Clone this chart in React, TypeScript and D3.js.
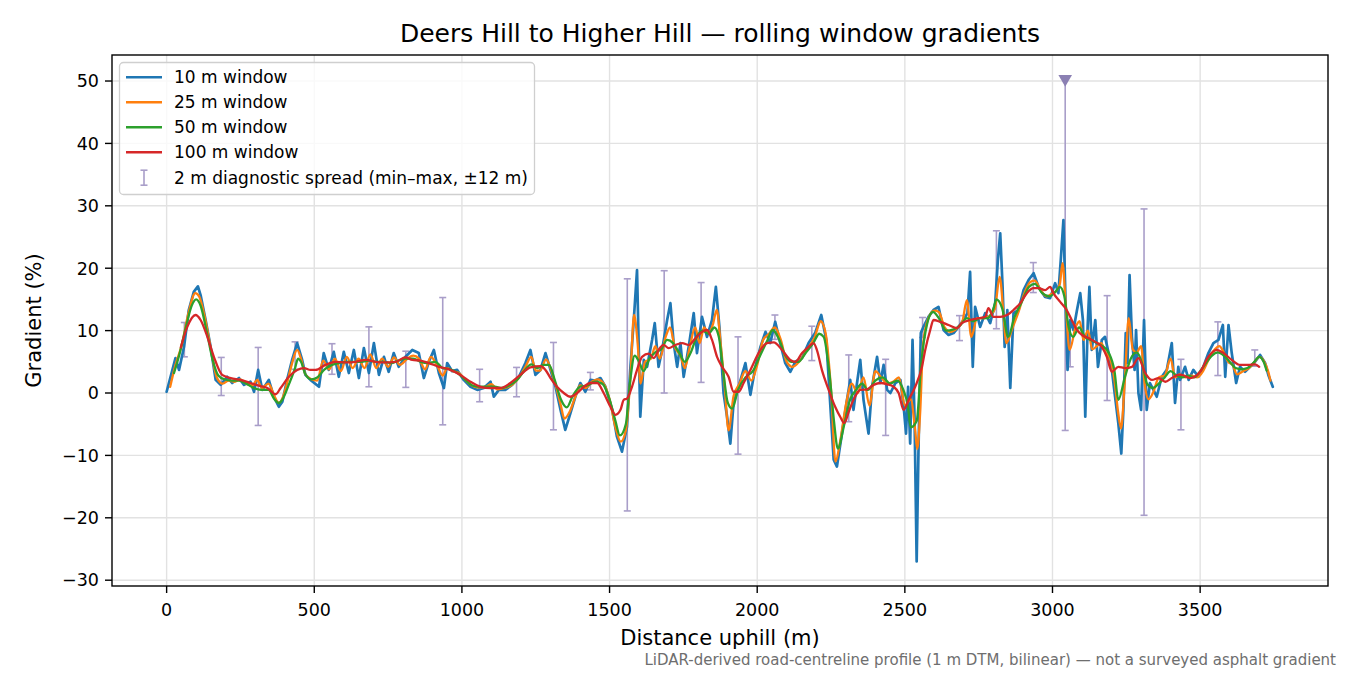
import React from 'react';
import * as d3 from 'd3';

// Rolling-window gradient profiles, [distance m, gradient %]
const window10: [number, number][] = [
  [0, 0.2], [30, 5.6], [42, 3.7], [59, 7.4], [75, 13.3], [92, 16.2], [106, 17.1], [115, 15.7], [132, 11.7], [149, 7.4],
  [166, 2.1], [183, 1.3], [205, 2.6], [222, 1.6], [245, 2.4], [262, 1.3], [284, 1.8], [296, 0.2], [310, 3.7], [324, 0.5],
  [346, 2.1], [363, -0.6], [380, -2.2], [392, -1.4], [408, 2.1], [425, 5.3], [442, 8.0], [459, 5.3], [470, 2.9], [487, 2.1],
  [516, 1.0], [532, 6.4], [549, 3.7], [566, 6.6], [583, 2.6], [600, 6.6], [617, 3.2], [634, 6.9], [651, 2.4], [668, 7.2],
  [685, 3.2], [702, 8.0], [719, 2.9], [736, 5.8], [752, 3.4], [769, 6.4], [786, 4.2], [809, 5.8], [832, 6.9], [854, 6.4],
  [871, 2.4], [888, 5.0], [905, 6.9], [922, 3.2], [939, 0.8], [950, 4.8], [967, 3.5], [984, 3.7], [1006, 2.1], [1029, 1.0],
  [1052, 0.5], [1074, 0.8], [1097, 1.8], [1108, -0.6], [1125, 0.5], [1147, 0.5], [1170, 1.3], [1193, 2.6], [1215, 4.8], [1232, 6.9],
  [1249, 2.9], [1266, 3.7], [1283, 6.4], [1300, 3.7], [1317, 1.0], [1334, -2.7], [1350, -5.9], [1367, -3.3], [1384, -0.6], [1401, 1.6],
  [1418, 0.2], [1435, 2.1], [1452, 2.0], [1469, 2.4], [1486, 1.0], [1509, -2.7], [1525, -7.0], [1542, -9.4], [1559, -5.4], [1570, 3.7],
  [1582, 11.7], [1593, 19.7], [1604, -3.8], [1616, 5.3], [1627, 4.2], [1644, 8.5], [1653, 11.2], [1666, 4.2], [1678, 6.9], [1695, 11.7],
  [1706, 14.4], [1717, 8.0], [1729, 4.2], [1740, 8.0], [1751, 2.6], [1768, 7.4], [1785, 12.8], [1796, 6.4], [1813, 12.2], [1830, 9.0],
  [1847, 11.7], [1860, 17.0], [1872, 10.6], [1886, 0.0], [1898, -3.8], [1909, -8.1], [1920, -1.6], [1937, 1.0], [1960, 4.8], [1977, -0.3],
  [1994, 4.2], [2011, 7.4], [2028, 9.8], [2044, 8.0], [2061, 11.4], [2078, 8.0], [2095, 4.8], [2112, 3.4], [2129, 5.0], [2152, 5.6],
  [2174, 8.0], [2196, 9.6], [2217, 12.5], [2234, 8.5], [2245, 0.0], [2259, -10.7], [2270, -11.8], [2287, -6.5], [2304, -1.1], [2315, 2.1],
  [2326, -2.7], [2338, 1.6], [2349, 5.3], [2360, -1.1], [2377, -6.5], [2389, 1.0], [2406, 5.8], [2417, 1.6], [2428, 4.5], [2440, 0.5],
  [2451, 0.0], [2468, 1.6], [2485, 2.1], [2496, -2.2], [2504, -6.5], [2511, 1.0], [2518, -8.1], [2526, 8.5], [2533, -4.3], [2540, -27.0],
  [2546, -9.7], [2554, 9.6], [2563, 10.6], [2580, 12.2], [2597, 13.3], [2614, 13.8], [2631, 10.1], [2648, 9.3], [2665, 9.6], [2682, 10.6],
  [2699, 11.7], [2712, 12.8], [2721, 19.4], [2730, 4.2], [2738, 13.8], [2755, 10.6], [2772, 12.8], [2789, 11.2], [2806, 14.4], [2815, 21.3],
  [2823, 25.6], [2831, 17.0], [2838, 7.4], [2847, 13.3], [2857, 0.8], [2868, 12.8], [2885, 13.3], [2902, 16.5], [2919, 18.1], [2936, 19.2],
  [2953, 17.0], [2975, 15.4], [2992, 15.2], [3009, 17.6], [3020, 16.0], [3028, 21.3], [3037, 27.7], [3045, 13.3], [3051, 3.7], [3060, 11.7],
  [3071, 10.1], [3083, 13.3], [3094, 16.0], [3103, 11.7], [3111, -3.8], [3119, 10.6], [3125, 17.0], [3133, 6.9], [3145, 11.7], [3154, 4.2],
  [3167, 8.5], [3178, 9.0], [3190, 6.4], [3201, 3.7], [3212, -0.6], [3223, -4.9], [3233, -9.7], [3240, -2.7], [3248, 9.6], [3254, 4.8],
  [3261, 18.9], [3269, 9.0], [3278, 3.7], [3283, 10.1], [3291, 0.0], [3300, -2.7], [3310, 11.7], [3319, -2.7], [3330, 1.6], [3342, 0.5],
  [3353, -0.6], [3370, 2.6], [3387, 3.7], [3404, 8.0], [3415, -1.6], [3426, 4.2], [3432, 2.1], [3449, 4.2], [3461, 2.1], [3477, 3.7],
  [3494, 2.6], [3511, 4.2], [3528, 6.4], [3545, 8.0], [3562, 8.5], [3577, 10.9], [3585, 2.6], [3596, 10.9], [3607, 6.4], [3622, 1.6],
  [3635, 4.2], [3652, 3.4], [3669, 4.2], [3686, 5.0], [3703, 6.1], [3720, 4.8], [3731, 2.9], [3746, 1.0],
];

const window25: [number, number][] = [
  [12, 1.0], [30, 4.5], [50, 7.5], [75, 13.0], [97, 16.0], [110, 15.5], [130, 12.0], [150, 7.0], [170, 2.5], [190, 1.5],
  [210, 2.0], [230, 1.8], [250, 2.2], [270, 1.5], [290, 1.2], [307, 2.1], [322, 0.8], [345, 1.5], [365, -0.5], [380, -1.6],
  [395, -0.5], [410, 2.0], [425, 4.8], [442, 6.9], [455, 5.5], [470, 3.0], [490, 2.2], [510, 2.0], [530, 5.2], [550, 3.8],
  [570, 5.5], [590, 3.5], [610, 5.8], [630, 4.0], [650, 5.5], [670, 4.0], [690, 6.2], [710, 4.0], [730, 5.5], [750, 4.2],
  [770, 5.7], [790, 4.5], [815, 5.5], [835, 6.0], [855, 5.5], [875, 3.8], [895, 5.8], [915, 4.5], [935, 2.8], [950, 4.0],
  [970, 3.5], [990, 3.2], [1010, 2.2], [1030, 1.3], [1055, 0.9], [1080, 1.0], [1100, 1.4], [1120, 0.6], [1145, 0.8], [1170, 1.3],
  [1195, 2.6], [1215, 4.2], [1235, 5.8], [1250, 3.6], [1265, 3.6], [1285, 5.4], [1300, 4.0], [1318, 1.2], [1335, -2.0], [1347, -4.1],
  [1365, -3.0], [1385, -0.5], [1400, 1.2], [1420, 0.8], [1440, 1.8], [1460, 2.2], [1480, 1.5], [1500, -1.0], [1520, -5.5], [1538, -7.8],
  [1555, -6.0], [1570, 2.0], [1583, 12.5], [1595, 8.0], [1605, 1.5], [1620, 5.0], [1640, 5.5], [1655, 7.5], [1670, 5.5], [1690, 9.0],
  [1705, 10.5], [1720, 7.5], [1740, 6.0], [1755, 4.0], [1770, 7.0], [1790, 10.5], [1805, 8.0], [1820, 10.5], [1835, 9.5], [1850, 11.0],
  [1863, 13.3], [1875, 8.5], [1890, 1.0], [1903, -6.0], [1920, -0.5], [1940, 1.5], [1960, 3.5], [1980, 2.0], [2000, 4.5], [2020, 8.5],
  [2040, 9.5], [2060, 10.5], [2080, 8.5], [2100, 5.0], [2120, 4.2], [2145, 5.2], [2170, 7.0], [2195, 9.0], [2215, 11.5], [2232, 9.5],
  [2250, 0.5], [2265, -11.0], [2280, -8.0], [2300, -2.0], [2320, 1.5], [2340, 0.0], [2360, 2.5], [2380, -2.0], [2400, 3.5], [2420, 2.5],
  [2440, 1.5], [2460, 1.8], [2480, 2.5], [2500, -2.0], [2520, -1.0], [2535, -6.0], [2542, -9.0], [2552, -3.0], [2562, 8.0], [2580, 12.0],
  [2600, 13.2], [2615, 13.0], [2635, 10.5], [2655, 9.8], [2675, 10.3], [2695, 11.5], [2710, 14.9], [2725, 9.0], [2745, 12.0], [2770, 12.0],
  [2790, 12.5], [2805, 13.5], [2821, 18.6], [2835, 12.0], [2843, 8.0], [2865, 10.5], [2885, 13.0], [2905, 16.0], [2925, 17.8], [2940, 18.0],
  [2960, 16.5], [2980, 15.5], [3000, 16.0], [3015, 16.5], [3025, 17.5], [3034, 20.8], [3045, 14.0], [3058, 6.9], [3078, 10.5], [3092, 11.5],
  [3105, 8.5], [3120, 10.0], [3135, 7.0], [3150, 7.5], [3165, 8.0], [3180, 6.5], [3195, 5.5], [3210, 2.0], [3222, -3.0], [3232, -5.7],
  [3245, 2.0], [3258, 12.0], [3272, 7.0], [3285, 6.5], [3300, 7.5], [3312, 1.5], [3325, -1.0], [3340, 0.0], [3360, 2.5], [3380, 2.8],
  [3400, 5.5], [3415, 2.5], [3430, 3.0], [3450, 2.5], [3470, 2.8], [3490, 2.5], [3510, 3.5], [3530, 5.5], [3550, 7.0], [3565, 7.5],
  [3580, 6.5], [3595, 5.0], [3610, 4.5], [3625, 3.0], [3645, 3.5], [3665, 4.0], [3685, 5.0], [3700, 5.8], [3715, 5.2], [3730, 3.5],
  [3738, 2.0],
];

const window50: [number, number][] = [
  [25, 3.2], [45, 6.5], [65, 10.5], [85, 14.0], [100, 15.0], [115, 14.0], [135, 10.0], [155, 5.5], [175, 2.8], [195, 2.2],
  [220, 2.0], [245, 2.0], [270, 1.5], [295, 0.8], [320, 0.5], [345, 0.5], [365, -1.0], [380, -1.6], [395, -0.8], [415, 1.5],
  [435, 4.0], [445, 5.5], [455, 5.0], [470, 3.0], [490, 2.2], [510, 2.5], [535, 3.8], [560, 4.5], [585, 4.8], [610, 5.0],
  [635, 5.0], [660, 5.0], [685, 5.2], [710, 5.0], [735, 5.0], [760, 4.8], [785, 5.2], [810, 5.5], [835, 5.5], [860, 5.0],
  [885, 4.8], [910, 5.0], [935, 4.0], [960, 3.8], [985, 3.2], [1010, 2.2], [1035, 1.2], [1060, 1.0], [1085, 1.0], [1110, 1.0],
  [1135, 0.8], [1160, 1.2], [1185, 2.0], [1210, 3.5], [1235, 4.6], [1255, 4.0], [1275, 4.5], [1295, 4.5], [1315, 2.0], [1335, -1.0],
  [1355, -2.3], [1375, -0.5], [1400, 1.0], [1425, 1.2], [1450, 1.8], [1475, 1.5], [1500, -1.0], [1520, -4.5], [1535, -6.8], [1555, -5.0],
  [1570, 2.0], [1585, 6.0], [1600, 5.0], [1615, 3.5], [1635, 5.5], [1655, 6.5], [1675, 7.0], [1695, 8.5], [1715, 8.0], [1735, 6.5],
  [1755, 5.0], [1775, 6.5], [1795, 9.0], [1815, 10.0], [1835, 9.5], [1855, 10.5], [1870, 9.0], [1885, 3.5], [1900, -1.5], [1915, -2.5],
  [1935, 0.5], [1960, 2.5], [1985, 3.5], [2010, 6.0], [2035, 8.5], [2052, 10.1], [2075, 8.5], [2095, 6.0], [2115, 5.0], [2140, 5.0],
  [2165, 6.5], [2190, 8.0], [2210, 9.5], [2225, 9.0], [2245, 3.0], [2260, -4.5], [2273, -8.9], [2295, -5.0], [2315, -1.0], [2335, 0.5],
  [2355, 1.5], [2375, 0.5], [2400, 2.0], [2425, 2.5], [2450, 1.5], [2475, 2.0], [2495, 0.5], [2510, -2.0], [2520, -5.5], [2540, -4.5],
  [2555, 4.5], [2575, 11.0], [2595, 13.0], [2615, 12.0], [2640, 10.0], [2665, 10.2], [2690, 11.0], [2710, 12.0], [2730, 11.5], [2755, 12.0],
  [2780, 12.0], [2800, 13.5], [2810, 15.0], [2830, 13.5], [2850, 9.0], [2870, 12.0], [2895, 14.5], [2920, 17.0], [2940, 17.5], [2965, 16.0],
  [2990, 15.5], [3010, 16.2], [3025, 17.0], [3040, 15.5], [3055, 10.5], [3070, 9.0], [3090, 10.5], [3110, 9.0], [3130, 8.5], [3150, 8.0],
  [3170, 7.5], [3190, 6.5], [3210, 3.5], [3223, -1.1], [3245, 2.5], [3265, 5.5], [3285, 6.5], [3305, 4.5], [3320, 1.5], [3340, 0.8],
  [3360, 1.5], [3380, 2.5], [3400, 3.5], [3420, 2.8], [3440, 2.5], [3460, 2.8], [3480, 2.5], [3500, 3.5], [3520, 4.8], [3540, 6.0],
  [3560, 6.5], [3580, 6.0], [3600, 5.0], [3620, 4.0], [3640, 3.8], [3660, 4.0], [3680, 4.8], [3700, 5.8], [3715, 5.0], [3725, 3.6],
];

const window100: [number, number][] = [
  [48, 7.3], [70, 10.6], [98, 12.5], [115, 11.7], [138, 9.0], [160, 5.8], [188, 2.9], [217, 2.4], [250, 2.1], [284, 1.6],
  [318, 1.1], [341, 0.8], [369, -0.2], [386, 0.8], [414, 2.6], [442, 3.7], [465, 4.0], [487, 3.7], [504, 3.7], [538, 4.5],
  [572, 5.0], [606, 4.9], [640, 5.0], [674, 5.3], [707, 5.0], [741, 4.9], [775, 5.0], [809, 5.7], [832, 5.3], [860, 5.2],
  [888, 4.8], [922, 4.2], [956, 3.8], [995, 2.9], [1029, 1.8], [1063, 1.0], [1097, 0.8], [1131, 0.8], [1164, 1.6], [1198, 2.9],
  [1232, 4.1], [1266, 4.3], [1283, 3.7], [1300, 2.4], [1322, 1.0], [1345, 0.0], [1367, -0.6], [1390, 0.0], [1413, 1.0], [1435, 1.6],
  [1458, 1.6], [1480, 0.0], [1503, -2.2], [1520, -3.5], [1537, -2.7], [1548, -1.1], [1559, -0.9], [1576, 1.0], [1593, 3.7], [1610, 5.8],
  [1633, 6.3], [1650, 5.6], [1666, 6.9], [1683, 7.7], [1700, 7.2], [1723, 7.7], [1746, 8.0], [1768, 7.7], [1791, 8.8], [1813, 9.8],
  [1830, 10.1], [1847, 8.5], [1864, 5.8], [1881, 4.2], [1903, 2.6], [1920, 0.2], [1937, 0.2], [1954, 1.6], [1977, 3.7], [2011, 6.9],
  [2033, 8.0], [2056, 8.1], [2084, 6.9], [2112, 5.3], [2129, 5.0], [2152, 6.4], [2174, 7.4], [2191, 8.0], [2202, 6.9], [2219, 3.7],
  [2242, 0.5], [2264, -2.2], [2281, -3.8], [2295, -4.8], [2310, -3.0], [2326, -1.1], [2349, 0.5], [2372, 0.6], [2394, 1.3], [2417, 1.6],
  [2440, 1.4], [2462, 1.0], [2479, 0.0], [2496, -2.7], [2513, -1.1], [2535, 1.0], [2558, 4.2], [2569, 6.9], [2586, 10.1], [2597, 11.7],
  [2620, 11.4], [2648, 10.9], [2676, 10.4], [2693, 11.2], [2721, 11.7], [2750, 12.0], [2772, 12.2], [2783, 13.6], [2800, 12.2], [2823, 12.2],
  [2846, 12.5], [2868, 13.3], [2891, 14.4], [2913, 16.0], [2936, 16.8], [2953, 16.8], [2975, 16.5], [2992, 17.0], [3003, 16.0], [3026, 14.6],
  [3048, 13.3], [3065, 11.7], [3083, 10.1], [3100, 9.3], [3122, 8.8], [3145, 8.2], [3167, 7.4], [3184, 5.8], [3201, 3.4], [3223, 4.2],
  [3246, 4.0], [3269, 4.2], [3291, 5.6], [3314, 3.2], [3337, 2.1], [3359, 2.4], [3382, 1.8], [3404, 2.4], [3426, 2.9], [3438, 2.9],
  [3466, 2.4], [3500, 3.4], [3528, 5.8], [3556, 6.9], [3579, 6.4], [3607, 5.3], [3635, 4.5], [3663, 4.5], [3686, 4.6], [3700, 4.2],
];

// 2 m diagnostic spread (min–max within ±12 m)
const spreadAt = [60, 185, 310, 435, 560, 685, 810, 935, 1060, 1185, 1310, 1435, 1560, 1685, 1810,
  1935, 2060, 2185, 2310, 2435, 2560, 2685, 2810, 2935, 3060, 3185, 3310, 3435, 3560, 3685];
const spreadLow = [5.8, -0.4, -5.2, 3.8, 3.0, 1.0, 0.9, -5.1, -1.4, -0.6, -5.9, 0.5, -18.9, 0.0, 1.7,
  -9.8, 8.6, 5.2, -4.6, -6.8, 8.9, 8.4, 10.3, 16.1, 4.2, -1.2, -19.6, -5.9, 2.8, 4.3];
const spreadHigh = [11.3, 5.7, 7.3, 8.2, 7.9, 10.6, 6.7, 15.3, 3.8, 4.1, 8.1, 3.3, 18.3, 19.6, 17.7,
  9.0, 12.5, 10.7, 6.1, 5.4, 12.1, 12.4, 26.0, 20.9, 11.4, 15.6, 29.5, 5.4, 11.4, 6.9];

// spread that runs off the top of the axis: drawn to the ceiling with a marker
const clippedAt = [3043];
const clippedLow = [-6.0];
const clipCeiling = 50;

const xTicks = [0, 500, 1000, 1500, 2000, 2500, 3000, 3500];
const yTicks = [-30, -20, -10, 0, 10, 20, 30, 40, 50];

const series = [
  { label: '10 m window', data: window10, color: '#1f77b4', width: 2.7, smooth: false },
  { label: '25 m window', data: window25, color: '#ff7f0e', width: 2.3, smooth: true },
  { label: '50 m window', data: window50, color: '#2ca02c', width: 2.3, smooth: true },
  { label: '100 m window', data: window100, color: '#d62728', width: 2.3, smooth: true },
];

const W = 1350;
const H = 675;
const plot = { left: 112, right: 1328, top: 55, bottom: 586 };
const font = 'DejaVu Sans, Liberation Sans, sans-serif';
const spreadColor = '#a99ec9';

export default function App() {
  const x = d3.scaleLinear().domain([-185, 3933]).range([plot.left, plot.right]);
  const y = d3.scaleLinear().domain([-30.93, 54.17]).range([plot.bottom, plot.top]);

  const straight = d3.line<[number, number]>().x(d => x(d[0])).y(d => y(d[1]));
  const smooth = d3.line<[number, number]>().x(d => x(d[0])).y(d => y(d[1])).curve(d3.curveMonotoneX);

  const cap = 3.5;
  const tri = d3.symbol().type(d3.symbolTriangle).size(80)();

  return (
    <svg width={W} height={H} viewBox={`0 0 ${W} ${H}`}
      style={{ position: 'fixed', left: 0, top: 0, background: '#fff' }} fontFamily={font}>
      <defs>
        <clipPath id="plotArea">
          <rect x={plot.left} y={plot.top} width={plot.right - plot.left} height={plot.bottom - plot.top} />
        </clipPath>
      </defs>
      <rect width={W} height={H} fill="#fff" />

      {/* grid */}
      <g stroke="#e2e2e2" strokeWidth={1.4}>
        {xTicks.map(t => <line key={'gx' + t} x1={x(t)} x2={x(t)} y1={plot.top} y2={plot.bottom} />)}
        {yTicks.map(t => <line key={'gy' + t} x1={plot.left} x2={plot.right} y1={y(t)} y2={y(t)} />)}
      </g>

      <g clipPath="url(#plotArea)">
        {/* diagnostic spread bars */}
        <g stroke={spreadColor} strokeWidth={1.6}>
          {spreadAt.map((d, i) => (
            <g key={'s' + d}>
              <line x1={x(d)} x2={x(d)} y1={y(spreadLow[i])} y2={y(spreadHigh[i])} />
              <line x1={x(d) - cap} x2={x(d) + cap} y1={y(spreadLow[i])} y2={y(spreadLow[i])} />
              <line x1={x(d) - cap} x2={x(d) + cap} y1={y(spreadHigh[i])} y2={y(spreadHigh[i])} />
            </g>
          ))}
          {clippedAt.map((d, i) => (
            <g key={'c' + d}>
              <line x1={x(d)} x2={x(d)} y1={y(clippedLow[i])} y2={y(clipCeiling)} />
              <line x1={x(d) - cap} x2={x(d) + cap} y1={y(clippedLow[i])} y2={y(clippedLow[i])} />
            </g>
          ))}
        </g>

        {series.map(s => (
          <path key={s.label} d={(s.smooth ? smooth : straight)(s.data) || ''} fill="none"
            stroke={s.color} strokeWidth={s.width} strokeLinejoin="round" strokeLinecap="round" />
        ))}

        {clippedAt.map(d => (
          <path key={'m' + d} d={tri || ''} fill="#8b80b3"
            transform={`translate(${x(d)},${y(clipCeiling) - 2}) rotate(180)`} />
        ))}
      </g>

      {/* frame */}
      <rect x={plot.left} y={plot.top} width={plot.right - plot.left} height={plot.bottom - plot.top}
        fill="none" stroke="#000" strokeWidth={1.4} />

      {/* axes */}
      <g fontSize={17.5} fill="#000">
        {xTicks.map(t => (
          <g key={'xt' + t}>
            <line x1={x(t)} x2={x(t)} y1={plot.bottom} y2={plot.bottom + 7} stroke="#000" strokeWidth={1.4} />
            <text x={x(t)} y={plot.bottom + 30} textAnchor="middle">{t}</text>
          </g>
        ))}
        {yTicks.map(t => (
          <g key={'yt' + t}>
            <line x1={plot.left - 7} x2={plot.left} y1={y(t)} y2={y(t)} stroke="#000" strokeWidth={1.4} />
            <text x={plot.left - 13} y={y(t)} dy="0.36em" textAnchor="end">{t < 0 ? '\u2212' + Math.abs(t) : t}</text>
          </g>
        ))}
      </g>

      <text x={(plot.left + plot.right) / 2} y={645} textAnchor="middle" fontSize={21}>Distance uphill (m)</text>
      <text transform={`translate(41,${(plot.top + plot.bottom) / 2}) rotate(-90)`} textAnchor="middle" fontSize={21}>
        Gradient (%)
      </text>
      <text x={(plot.left + plot.right) / 2} y={42} textAnchor="middle" fontSize={25}>
        Deers Hill to Higher Hill — rolling window gradients
      </text>
      <text x={1336} y={665} textAnchor="end" fontSize={15} fill="#6e6e6e">
        LiDAR-derived road-centreline profile (1 m DTM, bilinear) — not a surveyed asphalt gradient
      </text>

      {/* legend */}
      <g fontSize={17}>
        <rect x={119.5} y={62.5} width={415} height={132} rx={4} fill="#fff" fillOpacity={0.8} stroke="#cfcfcf" strokeWidth={1.3} />
        {series.map((s, i) => (
          <g key={'lg' + s.label} transform={`translate(0,${77.3 + i * 25})`}>
            <line x1={126} x2={162} y1={0} y2={0} stroke={s.color} strokeWidth={2.6} />
            <text x={174} y={0} dy="0.36em">{s.label}</text>
          </g>
        ))}
        <g transform="translate(0,177.7)" stroke={spreadColor} strokeWidth={1.6}>
          <line x1={144} x2={144} y1={-7.5} y2={7.5} />
          <line x1={144 - cap} x2={144 + cap} y1={-7.5} y2={-7.5} />
          <line x1={144 - cap} x2={144 + cap} y1={7.5} y2={7.5} />
          <text x={174} y={0} dy="0.36em" stroke="none" fill="#000">2 m diagnostic spread (min–max, ±12 m)</text>
        </g>
      </g>
    </svg>
  );
}
